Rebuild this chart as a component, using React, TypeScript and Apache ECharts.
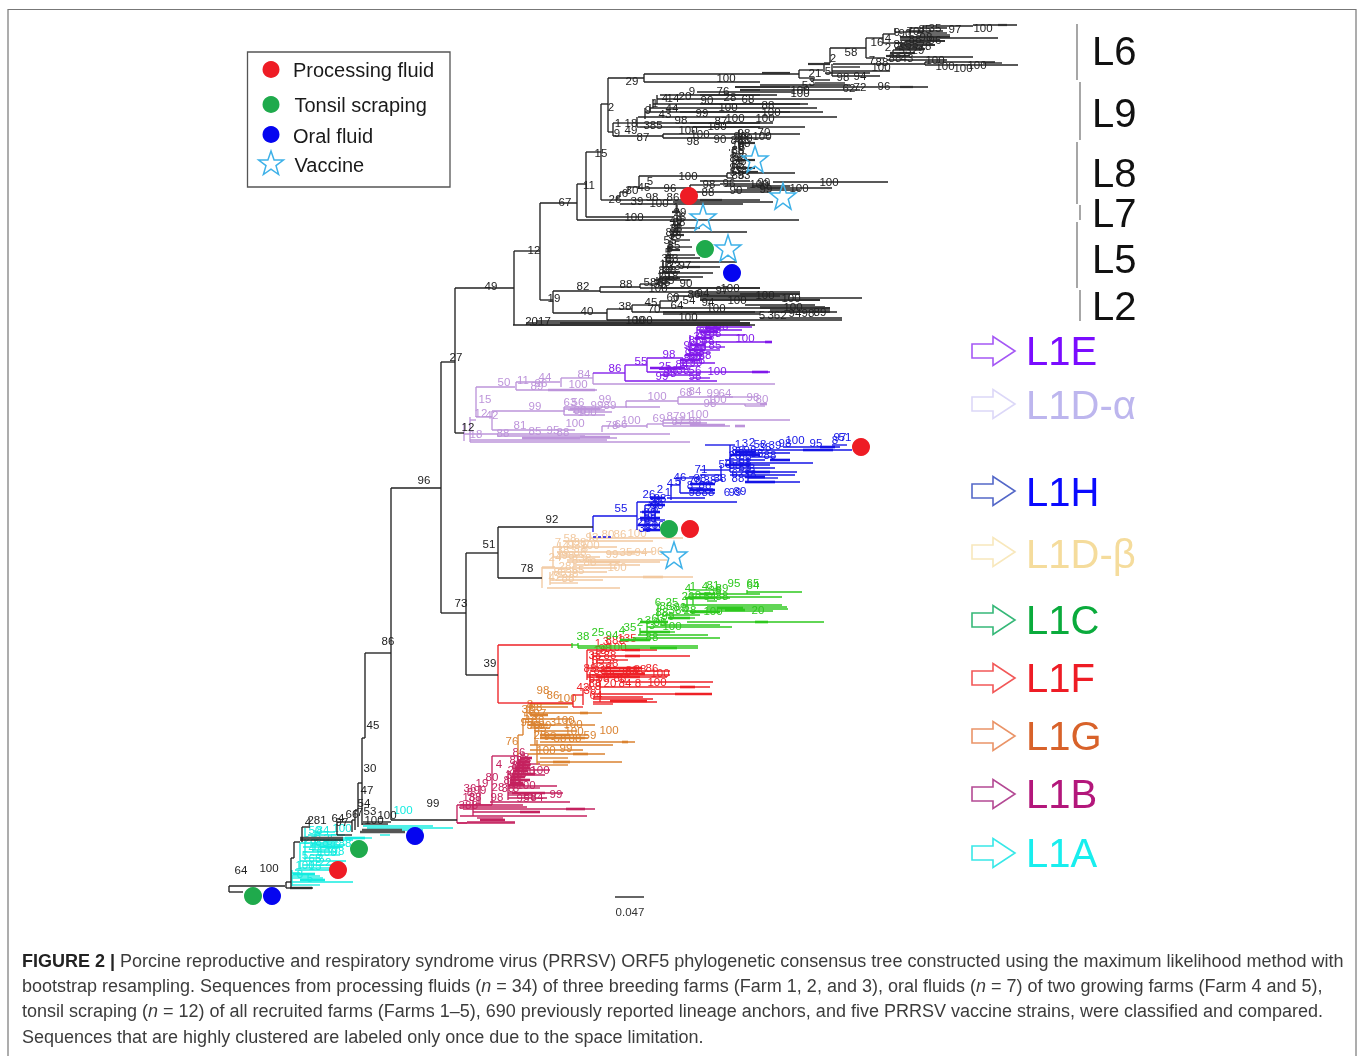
import React, { useEffect, useRef } from "react";
import * as echarts from "echarts";

type Lab = [number, number, string];

// ---- tree branches: horizontal triples x1,x2,y ; vertical triples x,y1,y2 ; thick tip triples x1,x2,y
const backboneH = [229,285,886, 229,243,892, 286,291,882, 286,291,888, 291,313,888, 291,294,858, 294,300,842, 300,343,840, 302,310,827, 337,352,822, 337,352,835, 352,355,820, 355,358,810, 358,362,783, 362,365,738, 365,391,653, 362,388,824, 391,457,820, 363,391,822,
  391,441,488, 441,455,362, 455,514,288, 455,464,433, 514,540,251, 540,577,203, 577,799,220, 577,586,184, 586,601,152, 586,673,217, 601,608,104, 608,644,78, 644,799,74, 644,760,82, 441,466,613, 466,498,553, 466,498,675, 498,593,527, 498,542,578,
  540,553,300, 553,600,291, 553,607,313, 600,640,287, 600,800,292, 640,660,284, 640,760,288, 607,632,309, 607,842,320, 632,660,305, 632,755,312, 660,677,301, 660,760,308, 513,755,325, 526,748,323, 536,740,321,
  700,862,298, 672,790,296, 690,800,294, 663,837,312, 663,760,314, 760,842,318, 770,830,310, 745,815,305, 760,825,307,
  608,613,132, 613,637,123, 613,663,136, 663,800,134, 663,770,138, 637,640,127, 640,805,127, 637,773,123, 638,837,117, 645,823,112, 650,817,108, 653,808,104, 657,852,99, 660,777,95, 697,793,92, 748,928,87, 748,860,90, 760,850,85,
  799,823,70, 799,815,78, 824,830,63, 830,866,48, 866,883,38, 866,885,58, 883,895,34, 883,901,43, 895,923,32, 910,947,28, 923,973,26, 973,1017,25, 900,998,38, 920,950,35, 917,947,33, 907,943,31, 900,940,40, 895,930,43, 897,923,47, 893,920,50, 890,907,53, 893,973,57, 887,947,60, 925,1018,65, 925,995,62, 983,1002,63, 833,925,64, 833,860,67, 832,890,71, 832,880,76, 825,870,73, 810,830,80, 815,845,83,
  729,730,150, 733,737,147, 727,795,173, 727,733,178,
  601,617,200, 617,620,197, 620,628,192, 628,639,187, 639,727,176, 639,690,188, 690,720,185, 690,770,192, 720,770,184, 773,888,182, 747,832,188, 617,760,200, 673,773,202, 620,743,204, 700,750,181, 725,790,186, 735,800,190,
  678,747,232, 667,692,247, 667,737,262, 663,720,267, 663,713,273, 660,703,277, 672,690,240, 668,695,255, 666,700,258, 672,680,225, 675,700,228, 657,670,283, 654,690,280];
const backboneV = [229,886,892, 286,882,888, 291,858,888, 294,842,858, 302,827,842, 337,822,835, 352,820,832, 355,810,830, 358,783,827, 362,738,825, 365,653,738, 391,488,820, 441,362,613, 455,288,433, 514,251,325, 540,203,300, 577,184,220, 586,152,217, 601,104,200, 608,78,132, 644,74,82, 466,553,675, 498,527,578,
  553,291,313, 600,287,292, 640,284,288, 607,309,320, 632,305,312, 660,301,308, 677,296,301, 613,123,136, 663,134,138, 637,117,127, 645,108,119, 650,104,112, 653,99,108, 657,95,104,
  799,70,78, 824,63,72, 830,48,63, 866,38,58, 883,34,43, 895,28,34, 910,28,32, 923,26,32, 893,50,57, 925,62,65, 832,64,76, 733,147,173, 727,173,178, 739,130,150,
  617,197,200, 620,192,197, 628,187,192, 639,176,188, 690,185,192,
  677,205,222, 675,222,232, 672,225,240, 670,240,250, 668,247,258, 666,255,267, 663,262,273, 660,273,283, 657,277,285, 680,212,225, 678,218,232];
const backboneThick = [698,780,296, 740,800,294, 770,830,312, 760,830,308, 700,820,300, 660,760,288, 560,750,323, 530,750,325, 998,1007,25, 900,913,87, 900,950,37, 905,945,41, 900,935,45, 895,925,49, 890,915,53, 886,910,56,
  700,722,200, 760,781,188, 752,763,186, 682,700,267, 693,760,127, 700,800,104, 680,790,112, 690,760,123, 700,760,95, 735,790,87, 740,760,90, 740,755,143, 735,755,160, 736,755,168, 738,758,172, 672,680,232, 672,680,212, 670,684,235, 668,680,250, 666,680,262, 662,680,272, 660,680,278, 740,752,138, 808,830,64, 762,790,73];
const backboneGrey = [360,405,832, 362,402,830, 300,343,838, 290,312,888];

const l1aH = [363,433,826, 367,453,828, 363,423,830, 380,390,835, 343,372,838, 320,353,840, 300,337,843, 303,343,847, 303,337,852, 300,346,861, 303,340,865, 300,330,868, 292,300,873, 292,320,876, 292,323,878, 292,353,882, 292,320,885, 310,345,845, 310,340,855, 305,320,858, 295,330,870, 308,345,835, 315,335,832, 312,330,850];
const l1aV = [292,870,886, 300,843,869, 305,828,860, 315,830,850];
const l1aThick = [300,325,880, 293,315,874, 345,365,838, 320,340,847];

const l1bH = [457,492,805, 492,518,756, 457,467,823, 508,557,786, 508,540,788, 508,563,793, 508,533,795, 508,547,798, 490,570,802, 460,523,805, 460,527,807, 463,595,809, 473,540,812, 460,587,816, 477,503,818, 467,515,822, 457,515,823, 510,545,775, 515,550,770, 518,540,764, 520,530,760];
const l1bV = [457,805,823, 492,756,805, 508,770,800, 514,762,788, 518,755,780, 523,752,775, 473,800,816, 480,785,805];
const l1bThick = [566,585,809, 512,535,774, 510,530,780, 515,530,768, 518,530,762, 508,525,785, 512,545,793, 480,505,820, 520,540,812, 513,528,771, 511,525,777, 510,523,783, 517,530,765, 520,532,758];

const l1gH = [518,523,735, 530,573,704, 530,568,707, 528,602,713, 523,572,719, 527,595,725, 535,577,731, 543,588,735, 540,588,738, 540,635,742, 530,613,745, 530,583,750, 528,605,754, 540,568,758, 537,622,762, 540,568,765, 525,540,722, 530,550,728];
const l1gV = [518,735,755, 523,718,735, 527,705,720, 530,703,715, 537,740,765, 535,725,745];
const l1gThick = [580,588,713, 622,628,742, 573,588,754, 553,570,762, 540,570,735, 530,548,725, 530,548,715, 540,585,738];

const l1fH = [498,572,645, 498,530,703, 530,573,703, 573,583,695, 573,583,707, 587,630,650, 622,657,650, 593,690,656, 597,628,660, 597,613,663, 587,627,668, 590,670,671, 587,670,675, 587,667,677, 620,713,682, 600,710,687, 593,712,694, 593,643,697, 593,653,699, 593,657,702, 593,613,704, 590,600,680, 592,600,675];
const l1fV = [498,645,703, 573,695,707, 583,688,705, 587,650,680, 593,652,670, 597,658,668, 590,672,690, 600,680,702];
const l1fThick = [675,712,694, 610,647,701, 600,640,671, 602,645,674, 605,642,668, 625,640,650, 625,640,656, 680,695,687, 596,640,677];

const l1cH = [572,578,645, 578,698,648, 578,698,646, 633,720,638, 638,708,635, 647,675,632, 647,732,627, 687,824,622, 673,695,618, 683,773,611, 707,788,609, 707,787,607, 683,782,605, 707,717,601, 685,730,598, 688,782,597, 690,760,594, 747,802,592, 660,720,625, 665,700,615, 690,720,590];
const l1cV = [572,643,648, 578,643,648, 640,628,635, 647,620,635, 658,603,620, 683,603,612, 687,597,613, 693,594,605, 747,590,594];
const l1cThick = [650,677,648, 755,768,622, 717,743,608, 690,720,612, 685,715,598, 640,668,622, 640,670,632, 700,715,594, 668,690,618, 620,650,640, 725,745,610];

const peachH = [590,683,538, 563,653,541, 553,617,547, 557,653,552, 607,635,554, 567,667,560, 567,660,562, 573,640,565, 542,617,568, 552,607,572, 557,693,577, 550,603,580, 550,578,583, 547,620,588, 542,555,567, 560,580,555, 553,600,557];
const peachV = [542,567,588, 553,547,567, 573,540,550, 560,542,560, 550,572,585, 590,532,540];
const peachThick = [643,663,577, 627,640,552, 590,620,562];

const l1hH = [593,637,516, 637,737,502, 667,705,498, 671,680,485, 680,700,478, 680,715,493, 688,703,488, 700,713,483, 712,723,480, 700,730,470, 730,813,463, 730,797,472, 730,795,475, 748,778,478, 748,800,482, 733,852,450, 783,840,447, 832,847,445, 750,775,457, 740,790,453, 640,665,520, 640,660,512, 645,665,505, 725,770,465, 725,765,460, 730,775,468, 700,722,475, 705,735,445];
const l1hV = [593,516,532, 637,502,530, 671,498,500, 671,485,498, 680,478,493, 721,465,480, 730,445,472, 748,457,482, 655,495,530, 645,505,530];
const l1hDash = [593,612,537];
const l1hThick = [803,833,450, 770,790,460, 745,770,472, 745,765,477, 745,775,482, 638,660,525, 640,660,518, 648,665,505, 650,665,498, 690,715,490, 690,715,484, 820,835,447, 730,760,455, 725,750,465, 735,755,452, 642,660,512, 643,660,530];

const l1eH = [593,625,373, 625,647,365, 625,717,381, 647,683,358, 647,770,372, 700,772,342, 680,715,363, 690,710,353, 697,742,330, 697,752,327, 705,745,335, 695,725,347, 690,720,350, 680,700,366, 660,690,369, 660,700,375, 690,710,378];
const l1eV = [625,365,381, 647,358,372, 683,358,366, 697,327,358, 690,335,360, 705,330,350];
const l1eThick = [752,768,372, 765,772,342, 650,685,368, 685,702,355, 690,705,345, 695,712,338, 700,718,332, 705,720,328, 680,700,360, 688,705,350];

const l1dAH = [476,515,387, 516,560,382, 516,597,390, 561,593,378, 593,775,384, 492,565,411, 564,627,407, 564,605,415, 573,612,412, 626,678,401, 626,660,407, 678,733,397, 678,745,404, 745,767,404, 745,765,406, 492,575,430, 602,647,426, 647,663,424, 663,790,420, 663,730,426, 663,707,423, 464,670,434, 497,585,436, 522,617,438, 470,607,440, 470,690,442, 476,492,417, 470,476,420, 564,600,409, 568,605,410, 725,755,397];
const l1dAV = [476,387,417, 516,382,390, 561,378,387, 593,373,384, 492,411,430, 564,407,415, 626,401,407, 678,397,404, 745,404,406, 602,426,432, 647,424,428, 663,420,426, 464,423,441, 470,417,442];
const l1dAThick = [548,595,390, 735,745,426, 690,725,425, 522,580,438, 580,610,437, 675,700,423, 570,600,409, 760,767,404];

// ---- bootstrap labels
const blackLabels: Lab[] = [[241,870,"64"],[269,868,"100"],[373,725,"45"],[370,768,"30"],[367,790,"47"],[364,803,"54"],[388,641,"86"],[424,480,"96"],[433,803,"99"],[387,815,"100"],[374,820,"100"],[317,820,"281"],[308,822,"4"],[338,818,"64"],[352,814,"66"],[342,822,"97"],[370,811,"53"],[360,812,"7"],
 [456,357,"27"],[468,427,"12"],[491,286,"49"],[534,250,"12"],[565,202,"67"],[589,185,"11"],[601,153,"15"],[611,107,"2"],[632,81,"29"],[726,78,"100"],[552,519,"92"],[489,544,"51"],[527,568,"78"],[461,603,"73"],[490,663,"39"],
 [634,217,"100"],[538,321,"2017"],[554,298,"19"],[583,286,"82"],[587,311,"40"],[626,284,"88"],[625,306,"38"],[651,302,"45"],[654,309,"70"],[673,297,"60"],[694,294,"86"],[677,305,"64"],[689,300,"54"],[703,293,"94"],[722,290,"97"],[730,288,"100"],[686,283,"90"],[658,288,"100"],[650,282,"58"],[765,295,"100"],[791,298,"100"],[793,307,"100"],[716,308,"100"],[688,317,"100"],[635,320,"100"],[762,315,"5"],[777,315,"362"],[795,313,"94"],[808,313,"98"],[820,312,"89"],[737,300,"100"],[708,302,"94"],
 [643,320,"100"],[685,265,"97"],[650,181,"5"],[644,187,"45"],[632,190,"30"],[625,193,"6"],[615,199,"26"],[637,201,"39"],[652,197,"98"],[659,203,"100"],[688,176,"100"],[670,188,"96"],[709,184,"98"],[708,192,"88"],[736,190,"90"],[729,183,"96"],[759,184,"100"],[764,182,"99"],[766,189,"99"],[799,188,"100"],[829,182,"100"],[673,197,"86"],
 [618,123,"1"],[617,133,"9"],[631,123,"18"],[631,130,"49"],[643,137,"87"],[653,125,"385"],[681,120,"98"],[688,130,"100"],[700,134,"100"],[693,141,"98"],[720,139,"90"],[743,138,"100"],[744,133,"98"],[764,132,"70"],[762,136,"100"],[765,118,"100"],[771,112,"100"],[768,105,"88"],[735,118,"100"],[721,121,"87"],[717,126,"100"],[665,114,"43"],[672,108,"44"],[702,113,"99"],[728,107,"100"],[665,98,"4"],[673,98,"14"],[685,96,"20"],[692,91,"9"],[723,91,"76"],[707,100,"90"],[730,97,"28"],[748,99,"68"],[800,90,"100"],[800,93,"100"],[849,88,"62"],[860,87,"72"],[884,86,"96"],[648,110,"9"],[655,103,"1"],
 [877,42,"16"],[888,38,"4"],[888,47,"2"],[897,32,"9"],[905,33,"90"],[913,31,"70"],[925,29,"85"],[935,28,"35"],[915,39,"88"],[926,37,"98"],[935,40,"96"],[900,44,"88"],[912,44,"55"],[925,46,"78"],[918,50,"29"],[905,50,"53"],[895,58,"88"],[907,58,"43"],[882,62,"88"],[955,29,"97"],[983,28,"100"],[872,60,"7"],[851,52,"58"],[833,58,"2"],[881,67,"100"],[935,60,"100"],[945,66,"100"],[963,68,"100"],[977,65,"100"],[843,77,"98"],[860,76,"94"],[815,73,"21"],[828,71,"5"],[812,82,"3"],[805,85,"5"],
 [740,136,"99"],[744,143,"68"],[738,150,"38"],[741,157,"53"],[738,164,"88"],[741,170,"38"],[733,172,"5"],[744,175,"93"],[738,145,"18"],[734,153,"5"],[737,140,"88"],[742,147,"8"],[736,158,"88"],[740,161,"38"],[736,167,"98"],[741,153,"9"],[738,175,"88"],
 [676,207,"1"],[680,212,"29"],[676,220,"49"],[678,228,"8"],[675,235,"38"],[670,240,"55"],[674,245,"85"],[668,252,"5"],[672,258,"83"],[666,264,"18"],[670,270,"88"],[664,276,"29"],[668,280,"65"],[660,284,"38"],[683,217,"5"],[679,222,"88"],[676,228,"38"],[672,232,"88"],[670,248,"8"],[668,258,"38"],[674,266,"33"],[665,270,"88"],[672,276,"18"],[664,282,"55"]];
const l1aLabels: Lab[] = [[403,810,"100"],[315,830,"50"],[323,830,"84"],[342,828,"100"],[330,838,"35"],[322,842,"88"],[333,845,"86"],[345,843,"88"],[315,848,"47"],[327,852,"100"],[305,855,"5"],[315,858,"68"],[325,862,"22"],[305,865,"100"],[315,866,"15"],[300,874,"8"],[310,878,"5"],[318,836,"8"],[310,840,"28"],[338,851,"98"],[320,855,"5"]];
const l1bLabels: Lab[] = [[492,777,"80"],[482,783,"19"],[470,788,"36"],[469,797,"18"],[478,800,"1"],[498,787,"28"],[497,797,"98"],[519,752,"86"],[516,760,"88"],[521,767,"98"],[512,775,"30"],[516,782,"53"],[529,771,"60"],[540,770,"100"],[526,785,"100"],[556,794,"99"],[523,798,"95"],[530,796,"88"],[537,797,"84"],[499,764,"4"],[475,805,"8"],[470,792,"8"],[523,757,"38"],[518,765,"88"],[514,770,"28"],[520,774,"38"],[510,780,"88"],[516,788,"8"],[508,788,"38"],[480,790,"99"],[465,805,"38"],[475,797,"38"],[525,763,"53"]];
const l1gLabels: Lab[] = [[543,690,"98"],[553,695,"86"],[567,698,"100"],[512,741,"76"],[565,720,"100"],[573,724,"100"],[574,731,"100"],[590,735,"59"],[609,730,"100"],[566,748,"99"],[546,750,"100"],[536,707,"88"],[530,716,"55"],[540,713,"97"],[533,725,"38"],[545,725,"89"],[540,735,"28"],[550,736,"93"],[560,738,"58"],[575,738,"88"],[530,704,"8"],[528,709,"38"],[538,720,"88"],[527,722,"98"],[540,728,"55"],[553,722,"3"]];
const l1fLabels: Lab[] = [[598,643,"1"],[606,641,"3"],[612,640,"88"],[622,640,"8"],[627,638,"135"],[617,647,"100"],[600,650,"18"],[610,655,"88"],[598,660,"55"],[612,663,"38"],[600,670,"88"],[612,674,"86"],[625,672,"38"],[632,670,"88"],[640,669,"38"],[652,668,"86"],[660,673,"100"],[657,682,"100"],[583,687,"42"],[598,686,"8"],[610,683,"20"],[625,683,"84"],[596,695,"64"],[592,678,"5"],[595,655,"38"],[605,648,"98"],[590,668,"88"],[605,668,"38"],[595,683,"88"],[603,678,"98"],[590,690,"38"],[620,678,"88"],[638,683,"8"]];
const l1cLabels: Lab[] = [[583,636,"38"],[598,632,"25"],[612,635,"94"],[622,630,"4"],[630,627,"35"],[640,622,"2"],[648,620,"3"],[658,618,"63"],[672,626,"100"],[658,602,"6"],[672,602,"25"],[662,612,"88"],[680,607,"89"],[690,610,"28"],[688,596,"26"],[688,588,"4"],[693,586,"1"],[705,586,"4"],[713,585,"81"],[722,588,"89"],[710,596,"54"],[722,596,"88"],[734,583,"95"],[753,583,"65"],[753,585,"64"],[713,611,"100"],[758,610,"20"],[652,637,"88"],[652,625,"3"],[666,606,"88"],[675,610,"38"],[698,595,"8"],[715,590,"38"],[660,622,"88"],[668,616,"99"]];
const peachLabels: Lab[] = [[570,538,"58"],[592,537,"93"],[608,534,"80"],[620,534,"86"],[637,533,"100"],[558,542,"7"],[566,545,"4"],[574,545,"93"],[590,545,"100"],[580,552,"88"],[555,557,"24"],[568,555,"98"],[585,558,"38"],[590,562,"88"],[612,554,"99"],[626,552,"35"],[641,552,"94"],[657,551,"96"],[617,567,"100"],[555,577,"42"],[568,578,"88"],[572,573,"38"],[565,566,"28"],[578,570,"55"],[563,550,"38"],[575,560,"8"],[560,572,"88"],[585,548,"8"],[580,542,"38"]];
const l1hLabels: Lab[] = [[621,508,"55"],[649,494,"26"],[660,489,"2"],[668,492,"1"],[670,483,"4"],[678,481,"5"],[680,477,"46"],[701,469,"71"],[725,464,"50"],[738,444,"1"],[745,443,"3"],[752,442,"2"],[760,444,"58"],[785,443,"98"],[795,440,"100"],[816,443,"95"],[835,440,"8"],[840,437,"97"],[845,437,"51"],[727,492,"6"],[735,492,"99"],[740,491,"89"],[640,522,"2"],[650,518,"88"],[655,500,"38"],[660,498,"88"],[652,508,"28"],[655,525,"100"],[695,480,"78"],[705,485,"88"],[720,478,"38"],[690,485,"8"],[735,455,"28"],[745,456,"88"],[750,450,"98"],[735,465,"88"],[745,467,"55"],[738,473,"62"],[750,474,"38"],[765,447,"38"],[775,445,"39"],[770,455,"88"],[645,528,"38"],[650,512,"88"],[657,505,"98"],[648,520,"8"],[700,478,"88"],[710,480,"38"],[695,492,"98"],[708,492,"88"],[738,450,"88"],[745,462,"98"],[738,478,"88"],[752,468,"8"],[757,453,"38"]];
const l1eLabels: Lab[] = [[615,368,"86"],[641,361,"55"],[669,354,"98"],[665,366,"25"],[672,370,"98"],[662,376,"99"],[670,373,"88"],[682,364,"84"],[696,362,"90"],[717,371,"100"],[745,338,"100"],[695,340,"88"],[700,347,"80"],[688,350,"8"],[715,345,"85"],[705,331,"68"],[712,327,"68"],[700,336,"38"],[722,326,"58"],[695,356,"88"],[705,355,"88"],[695,370,"56"],[695,376,"58"],[690,345,"98"],[708,340,"88"],[698,352,"38"],[690,358,"88"],[702,360,"8"],[715,333,"88"],[683,370,"38"]];
const l1dALabels: Lab[] = [[504,382,"50"],[523,380,"11"],[545,377,"44"],[541,383,"96"],[537,386,"89"],[584,374,"84"],[578,384,"100"],[485,399,"15"],[481,413,"12"],[492,415,"42"],[535,406,"99"],[570,402,"63"],[578,402,"56"],[605,399,"99"],[597,405,"99"],[587,412,"100"],[657,396,"100"],[686,392,"68"],[695,391,"84"],[713,393,"99"],[725,393,"64"],[717,399,"100"],[753,397,"98"],[762,399,"80"],[520,425,"81"],[575,423,"100"],[503,433,"88"],[535,431,"85"],[553,430,"95"],[563,432,"88"],[612,425,"78"],[621,424,"66"],[631,420,"100"],[659,418,"69"],[673,416,"87"],[686,416,"91"],[699,414,"100"],[678,421,"87"],[695,421,"88"],[476,434,"18"],[610,405,"89"],[580,410,"88"],[710,403,"98"]];

// ---- sample markers, tree coordinates
const processingFluid = [[689,196],[861,447],[690,529],[338,870]];
const tonsilScraping = [[705,249],[669,529],[359,849],[253,896]];
const oralFluid = [[732,273],[415,836],[272,896]];
const vaccine = [[755,159],[783,196],[703,217],[728,248],[674,555]];
const scaleBar = [[615,897],[644,897]];

const lineageLabels = ["L6","L9","L8","L7","L5","L2"];
const lineageY = [51,113,173,213,259,306];
const lineageBars = [[1077,24,80],[1080,82,140],[1077,142,204],[1080,205,220],[1077,222,288],[1080,290,321]];
const cladeLabels = ["L1E","L1D-α","L1H","L1D-β","L1C","L1F","L1G","L1B","L1A"];
const cladeY = [351,405,492,554,620,678,736,794,853];
const cladeText = ["#7a0cff","#bdb6ee","#0a0aff","#f5dc9c","#0aab3c","#ee1c25","#d8622a","#b3177b","#18eeee"];
const cladeArrow = ["#a558f5","#dcd8f8","#5468c8","#f8e8bc","#36b878","#f25858","#ea9468","#b44a94","#38e8e8"];
const legendItems = ["Processing fluid","Tonsil scraping","Oral fluid","Vaccine"];
const captionLines = [
  "{b|FIGURE 2 |} Porcine reproductive and respiratory syndrome virus (PRRSV) ORF5 phylogenetic consensus tree constructed using the maximum likelihood method with",
  "bootstrap resampling. Sequences from processing fluids ({i|n} = 34) of three breeding farms (Farm 1, 2, and 3), oral fluids ({i|n} = 7) of two growing farms (Farm 4 and 5),",
  "tonsil scraping ({i|n} = 12) of all recruited farms (Farms 1–5), 690 previously reported lineage anchors, and five PRRSV vaccine strains, were classified and compared.",
  "Sequences that are highly clustered are labeled only once due to the space limitation.",
];

const STAR = "M0,-13L3.1,-4L12.4,-4L5,1.6L7.6,10.5L0,5.2L-7.6,10.5L-5,1.6L-12.4,-4L-3.1,-4Z";
const SANS = "'Liberation Sans', Arial, sans-serif";

function segs(h: number[], v: number[]) {
  const rows: number[][] = [];
  for (let i = 0; i < h.length; i += 3) rows.push([h[i], h[i + 2], h[i + 1], h[i + 2]]);
  for (let i = 0; i < v.length; i += 3) rows.push([v[i], v[i + 1], v[i], v[i + 2]]);
  return rows;
}
function lineSeries(rows: number[][], color: string, width: number, dash?: number[]) {
  return {
    type: "custom", silent: true, clip: false, data: rows, coordinateSystem: "cartesian2d",
    renderItem: (_: any, api: any) => {
      const a = api.coord([api.value(0), api.value(1)]);
      const b = api.coord([api.value(2), api.value(3)]);
      return { type: "line", shape: { x1: a[0], y1: a[1], x2: b[0], y2: b[1] }, style: { stroke: color, lineWidth: width, lineDash: dash } };
    },
  };
}
function labelSeries(labs: Lab[], color: string) {
  return {
    type: "custom", silent: true, clip: false, coordinateSystem: "cartesian2d",
    data: labs.map((l) => [l[0], l[1]]),
    renderItem: (p: any, api: any) => {
      const a = api.coord([api.value(0), api.value(1)]);
      return { type: "text", style: { x: a[0], y: a[1], text: labs[p.dataIndex][2], fill: color, font: `11.5px ${SANS}`, align: "center", verticalAlign: "middle" } };
    },
  };
}
function markerSeries(points: number[][], color: string) {
  return { type: "scatter", silent: true, clip: false, data: points, symbol: "circle", symbolSize: 18, itemStyle: { color, opacity: 1 }, z: 5 };
}

export default function App() {
  const ref = useRef<HTMLDivElement>(null);
  useEffect(() => {
    const chart = echarts.init(ref.current!, undefined, { renderer: "svg" });
    const clades: [number[], number[], number[], string, Lab[]][] = [
      [l1aH, l1aV, l1aThick, "#14ece0", l1aLabels],
      [l1bH, l1bV, l1bThick, "#c4225f", l1bLabels],
      [l1gH, l1gV, l1gThick, "#da8230", l1gLabels],
      [l1fH, l1fV, l1fThick, "#ee2126", l1fLabels],
      [l1cH, l1cV, l1cThick, "#2ec81e", l1cLabels],
      [peachH, peachV, peachThick, "#f2c9a0", peachLabels],
      [l1hH, l1hV, l1hThick, "#1414e6", l1hLabels],
      [l1dAH, l1dAV, l1dAThick, "#bd94da", l1dALabels],
      [l1eH, l1eV, l1eThick, "#8018ea", l1eLabels],
    ];
    const series: any[] = [];
    clades.forEach(([h, v, t, c, labs]) => {
      series.push(lineSeries(segs(h, v), c, 1.35));
      if (t.length) series.push(lineSeries(segs(t, []), c, 2.6));
      series.push(labelSeries(labs, c));
    });
    series.push(lineSeries(segs(l1hDash, []), "#1414e6", 1.3, [3, 2]));
    series.push(lineSeries(segs(backboneGrey, []), "#555", 2.5));
    series.push(lineSeries(segs(backboneH, backboneV), "#222", 1.35));
    series.push(lineSeries(segs(backboneThick, []), "#333", 2.2));
    series.push(labelSeries(blackLabels, "#222"));
    series.push(lineSeries([[scaleBar[0][0], scaleBar[0][1], scaleBar[1][0], scaleBar[1][1]]], "#333", 1.5));
    series.push(markerSeries(processingFluid, "#ee1c25"));
    series.push(markerSeries(tonsilScraping, "#1faa4c"));
    series.push(markerSeries(oralFluid, "#0505f0"));
    series.push({ type: "scatter", silent: true, clip: false, data: vaccine, symbol: "path://" + STAR, symbolSize: 26, itemStyle: { color: "rgba(255,255,255,0)", borderColor: "#3eb1e8", borderWidth: 1.5, opacity: 1 }, z: 6 });

    const graphic: any[] = [
      { type: "rect", shape: { x: 8, y: 9.5, width: 1348, height: 1060 }, style: { fill: "none", stroke: "#777", lineWidth: 1.2 } },
      { type: "rect", shape: { x: 247.5, y: 52, width: 202.5, height: 135 }, style: { fill: "#fff", stroke: "#555", lineWidth: 1.3 } },
      { type: "circle", shape: { cx: 271, cy: 69.5, r: 8.5 }, style: { fill: "#ee1c25" } },
      { type: "circle", shape: { cx: 271, cy: 104.5, r: 8.5 }, style: { fill: "#1faa4c" } },
      { type: "circle", shape: { cx: 271, cy: 134.5, r: 8.5 }, style: { fill: "#0505f0" } },
      { type: "polygon", shape: { points: [[0,-13],[3.1,-4],[12.4,-4],[5,1.6],[7.6,10.5],[0,5.2],[-7.6,10.5],[-5,1.6],[-12.4,-4],[-3.1,-4]].map((p) => [271 + p[0], 164 + p[1]]) }, style: { fill: "none", stroke: "#3eb1e8", lineWidth: 1.5 } },
      { type: "text", style: { x: 630, y: 912, text: "0.047", fill: "#333", font: `11.5px ${SANS}`, align: "center", verticalAlign: "middle" } },
    ];
    legendItems.forEach((t, i) => {
      graphic.push({ type: "text", style: { x: [293, 294.5, 293, 294.5][i], y: [70, 105, 135.5, 165][i], text: t, fill: "#1a1a1a", font: `20px ${SANS}`, align: "left", verticalAlign: "middle" } });
    });
    lineageLabels.forEach((t, i) => {
      graphic.push({ type: "text", style: { x: 1092, y: lineageY[i], text: t, fill: "#111", font: `40px ${SANS}`, align: "left", verticalAlign: "middle" } });
      const b = lineageBars[i];
      graphic.push({ type: "line", shape: { x1: b[0], y1: b[1], x2: b[0], y2: b[2] }, style: { stroke: "#777", lineWidth: 1.3 } });
    });
    cladeLabels.forEach((t, i) => {
      const y = cladeY[i];
      graphic.push({ type: "text", style: { x: 1026, y, text: t, fill: cladeText[i], font: `40px ${SANS}`, align: "left", verticalAlign: "middle" } });
      const a = y + (i === 1 ? -1 : i === 3 ? -2 : i === 2 ? -1 : 0);
      graphic.push({ type: "polygon", shape: { points: [[972,a-7],[993,a-7],[993,a-14.5],[1015,a],[993,a+14.5],[993,a+7],[972,a+7]] }, style: { fill: "none", stroke: cladeArrow[i], lineWidth: 1.6 } });
    });
    captionLines.forEach((t, i) => {
      graphic.push({ type: "text", style: { x: 22, y: [961, 986, 1011, 1037][i], text: t, fill: "#3c3c3c", font: `18px ${SANS}`, align: "left", verticalAlign: "middle", rich: { b: { font: `bold 18px ${SANS}`, fill: "#222" }, i: { font: `italic 18px ${SANS}`, fill: "#3c3c3c" } } } });
    });

    chart.setOption({
      animation: false,
      backgroundColor: "#fff",
      grid: { left: 0, right: 0, top: 0, bottom: 0, containLabel: false },
      xAxis: { type: "value", min: 0, max: 1358, show: false },
      yAxis: { type: "value", min: 0, max: 1056, inverse: true, show: false },
      series,
      graphic,
    });
    return () => chart.dispose();
  }, []);
  return <div ref={ref} style={{ position: "absolute", left: 0, top: 0, width: 1358, height: 1056, overflow: "hidden", filter: "blur(0.45px)" }} />;
}
